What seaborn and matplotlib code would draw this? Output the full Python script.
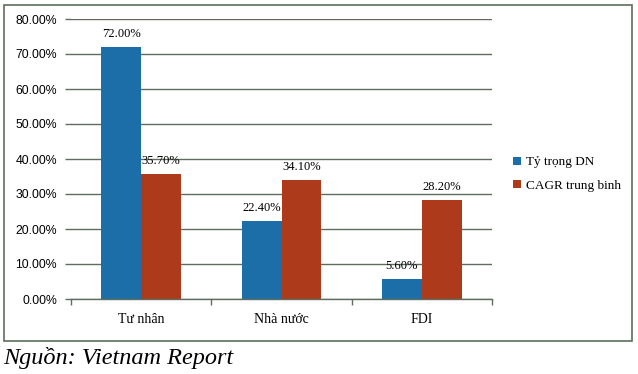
import matplotlib
matplotlib.use("Agg")
import matplotlib.pyplot as plt
import seaborn as sns
import pandas as pd
from matplotlib.patches import Patch, Rectangle

categories = ["Tư nhân", "Nhà nước", "FDI"]
series_names = ["Tỷ trọng DN", "CAGR trung binh"]
ty_trong = [72.0, 22.4, 5.6]
cagr = [35.7, 34.1, 28.2]
y_ticks = [0, 10, 20, 30, 40, 50, 60, 70, 80]
colors = ["#1C6EA8", "#AE3A1C"]
source_text = "Nguồn: Vietnam Report"

df = pd.DataFrame({
    "cat": categories * 2,
    "series": [series_names[0]] * 3 + [series_names[1]] * 3,
    "val": ty_trong + cagr,
})

sns.set_theme(style="white")
plt.rcParams["font.family"] = ["Liberation Serif", "DejaVu Serif"]
plt.rcParams["text.color"] = "black"
plt.rcParams["xtick.color"] = "black"
plt.rcParams["ytick.color"] = "black"

W, H = 638, 374
fig = plt.figure(figsize=(W / 100, H / 100), dpi=100)
ax = fig.add_axes([71 / W, 1 - 299 / H, (492 - 71) / W, (299 - 19) / H])

sns.barplot(data=df, x="cat", y="val", hue="series", order=categories,
            hue_order=series_names, palette=colors, width=0.57,
            saturation=1, ax=ax, legend=False, linewidth=0, edgecolor="none")

gc = "#5E6E5E"
ax.set_xlim(-0.5, 2.5)
ax.set_ylim(0, 80)
ax.set_yticks(y_ticks)
ax.set_yticklabels([f"{v:.2f}%" for v in y_ticks], fontfamily="Liberation Sans",
                   fontsize=8.8, color="#000000")
ax.yaxis.grid(True, color=gc, linewidth=1)
ax.set_axisbelow(True)
ax.set_xlabel("")
ax.set_ylabel("")
for s in ["top", "right", "left"]:
    ax.spines[s].set_visible(False)
ax.spines["bottom"].set_color(gc)
ax.spines["bottom"].set_linewidth(1)
ax.tick_params(axis="y", length=4, color=gc, width=1, left=True, pad=6,
               labelcolor="black")
ax.set_xticks([0, 1, 2])
ax.set_xticklabels(categories, fontsize=10, color="black")
ax.set_xticks([-0.5, 0.5, 1.5, 2.5], minor=True)
ax.tick_params(axis="x", which="major", length=0, pad=10)
ax.tick_params(axis="x", which="minor", length=4, color=gc, width=1, bottom=True)

for cont in ax.containers:
    for bar in cont:
        h = bar.get_height()
        ax.annotate(f"{h:.2f}%", (bar.get_x() + bar.get_width() / 2, h),
                    xytext=(0, 5), textcoords="offset points",
                    ha="center", va="bottom", fontsize=9, color="#000000")

handles = [Patch(facecolor=c, edgecolor="none") for c in colors]
fig.legend(handles, series_names, loc="center left",
           bbox_to_anchor=(508 / W, 1 - 174 / H), frameon=False,
           handlelength=0.6, handleheight=0.6, handletextpad=0.4,
           labelspacing=0.85, fontsize=9.5, borderaxespad=0,
           labelcolor="black")

fig.patches.append(Rectangle((3.5 / W, 1 - 341 / H), 628 / W, 336 / H,
                             transform=fig.transFigure, fill=False,
                             edgecolor=gc, linewidth=1.2))

fig.text(3 / W, 1 - 358 / H, source_text, fontsize=17.5, style="italic",
         ha="left", va="center", color="black")

fig.savefig("out.png", dpi=100)
